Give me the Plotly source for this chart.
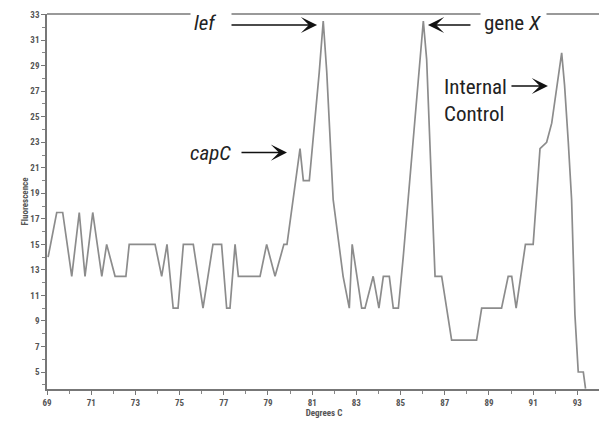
import plotly.graph_objects as go

# ---- data ----
temps = [69.05, 69.44, 69.71, 70.12, 70.46, 70.72, 71.07, 71.48, 71.70, 72.08,
         72.57, 72.72, 73.89, 74.19, 74.43, 74.71, 74.93, 75.17, 75.62, 76.06,
         76.51, 76.90, 77.13, 77.28, 77.51, 77.66, 78.64, 78.94, 79.32, 79.72,
         79.86, 80.45, 80.60, 80.87, 81.32, 81.50, 81.66, 81.95, 82.40, 82.68,
         82.81, 83.24, 83.39, 83.76, 84.02, 84.22, 84.49, 84.67, 84.90, 85.12,
         86.03, 86.18, 86.56, 86.86, 87.31, 88.44, 88.67, 89.57, 89.87, 90.03,
         90.23, 90.65, 91.00, 91.16, 91.31, 91.61, 91.84, 92.29, 92.42, 92.59,
         92.74, 92.89, 93.04, 93.27, 93.37]
fluor = [14, 17.5, 17.5, 12.5, 17.5, 12.5, 17.5, 12.5, 15, 12.5,
         12.5, 15, 15, 12.5, 15, 10, 10, 15, 15, 10,
         15, 15, 10, 10, 15, 12.5, 12.5, 15, 12.5, 15,
         15, 22.5, 20, 20, 28.5, 32.5, 28.5, 18.5, 12.5, 10,
         15, 10, 10, 12.5, 10, 12.5, 12.5, 10, 10, 14,
         32.5, 29.5, 12.5, 12.5, 7.5, 7.5, 10, 10, 12.5, 12.5,
         10, 15, 15, 18.5, 22.5, 23, 24.5, 30, 27.5, 23,
         18.5, 9.5, 5, 5, 3.7]

x_ticks = list(range(69, 94, 2))
y_ticks = list(range(5, 34, 2))

peak_labels = ["<i>lef</i>", "gene <i>X</i>", "<i>capC</i>", "Internal<br>Control"]

FONT = "Roboto Condensed, Roboto, sans-serif"

fig = go.Figure(go.Scatter(x=temps, y=fluor, mode="lines",
                           line=dict(color="#8c8c8c", width=1.7),
                           hoverinfo="skip", showlegend=False))

axis_common = dict(showgrid=False, zeroline=False, showline=True, automargin=False,
                   linecolor="#777", linewidth=1.5, ticks="outside",
                   ticklen=4, tickcolor="#777", tickwidth=1,
                   tickfont=dict(family=FONT, size=9, color="#555", weight="bold"))

# the page body adds an 8px offset, so margins are shifted to compensate
fig.update_layout(
    width=607, height=423,
    margin=dict(l=39, r=14, t=6, b=42, autoexpand=False),
    paper_bgcolor="white", plot_bgcolor="white",
    xaxis=dict(range=[69, 94.07], tickvals=x_ticks,
               minor=dict(tickvals=list(range(70, 94, 2)), ticks="outside",
                          ticklen=3, tickcolor="#888"),
               title=dict(text="Degrees C", standoff=2,
                          font=dict(family=FONT, size=9, color="#555", weight="bold")),
               **axis_common),
    yaxis=dict(range=[3.67, 33.05], tickvals=y_ticks,
               minor=dict(tickvals=list(range(4, 33, 2)), ticks="outside",
                          ticklen=3, tickcolor="#888"),
               title=dict(text="Fluorescence", standoff=0,
                          font=dict(family=FONT, size=9, color="#555", weight="bold")),
               **axis_common),
    shapes=[dict(type="line", xref="paper", yref="paper", x0=0, x1=1, y0=1, y1=1,
                 line=dict(color="#999", width=2), layer="above")],
)

tfont = dict(family=FONT, size=21, color="#222")
arrow = dict(showarrow=True, arrowhead=3, arrowsize=1.8, arrowwidth=1.5,
             arrowcolor="#111", ay=0, text="")

# arrows (tip in data coords, tail offset in px)
fig.add_annotation(x=81.22, y=32.19, ax=-94, **arrow)
fig.add_annotation(x=86.24, y=32.19, ax=44, **arrow)
fig.add_annotation(x=79.86, y=22.19, ax=-47, **arrow)
fig.add_annotation(x=91.67, y=27.41, ax=-38, **arrow)

# labels
fig.add_annotation(x=75.47, y=32.35, text=peak_labels[0], showarrow=False,
                   xanchor="left", yanchor="middle", width=34, align="left",
                   borderpad=3, bgcolor="white", font=tfont)
fig.add_annotation(x=88.59, y=32.35, text=peak_labels[1], showarrow=False,
                   xanchor="left", yanchor="middle", width=59, align="left",
                   borderpad=3, bgcolor="white", font=tfont)
fig.add_annotation(x=76.42, y=22.16, text=peak_labels[2], showarrow=False,
                   xanchor="center", yanchor="middle", font=tfont)
fig.add_annotation(x=86.86, y=26.3, text=peak_labels[3], showarrow=False,
                   xanchor="left", yanchor="middle", align="left", font=tfont)

fig.write_html("out.html")
